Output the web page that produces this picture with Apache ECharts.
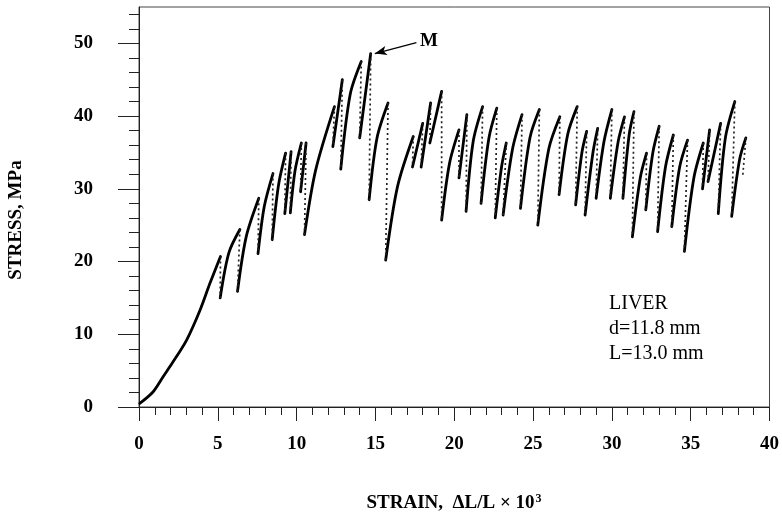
<!DOCTYPE html>
<html>
<head>
<meta charset="utf-8">
<script src="https://cdn.jsdelivr.net/npm/echarts@6/dist/echarts.min.js"></script>
<style>html,body{margin:0;padding:0;background:#fff}#c{width:782px;height:523px}</style>
</head>
<body>
<div id="c"></div>
<script>
// Initial (smooth) loading curve
const initStrain = [0.05, 0.9, 1.54, 2.1, 3.02, 3.87, 4.5, 5.17];
const initStress = [0.5, 2.1, 4.2, 6.0, 9.2, 13.3, 17.0, 20.7];

// Sawtooth: for each tooth, an optional mid point on the rise, the peak, and the trough after the drop
const midStrain = [null, 5.7, 6.8, 7.95, 8.85, null, 9.9, null, 11.2, null, 13.4, null, 15.1, 16.4, null, null, null, 19.7, null, 21.2, 22.2, 23.0, 23.7, 24.8, 26.0, 27.2, 28.1, 28.8, 29.5, 30.4, 31.1, 31.8, 32.6, 33.4, 34.3, 35.2, null, 36.6, 37.2, 38.1];
const midStress = [null, 21.2, 23.4, 27.6, 30.5, null, 32.5, null, 32.5, null, 43.0, null, 37.0, 30.3, null, null, null, 33.5, null, 36.5, 37.0, 33.0, 35.5, 37.0, 35.5, 37.5, 35.0, 35.0, 36.5, 36.5, 37.5, 31.5, 35.0, 33.0, 33.0, 31.5, null, 36.0, 37.0, 34.0];
const peakStrain = [5.17, 6.4, 7.6, 8.5, 9.3, 9.65, 10.3, 10.6, 12.4, 12.9, 14.1, 14.7, 15.8, 17.4, 18.0, 18.5, 19.2, 20.3, 20.8, 21.8, 22.7, 23.3, 24.3, 25.4, 26.7, 27.8, 28.4, 29.1, 30.0, 30.8, 31.4, 32.2, 33.0, 33.9, 34.8, 35.8, 36.2, 36.9, 37.8, 38.5];
const peakStress = [20.7, 24.4, 28.7, 32.1, 34.9, 35.1, 36.3, 36.3, 41.3, 45.0, 47.5, 48.6, 41.8, 37.2, 39.0, 41.8, 43.4, 38.1, 40.2, 41.3, 41.1, 36.3, 40.2, 40.9, 39.9, 41.3, 37.9, 38.3, 40.9, 39.9, 40.6, 34.9, 38.6, 37.4, 36.7, 36.3, 38.1, 39.0, 42.0, 37.0];
const troughStrain = [5.15, 6.25, 7.55, 8.45, 9.25, 9.6, 10.25, 10.5, 12.3, 12.8, 14.0, 14.6, 15.65, 17.35, 17.9, 18.45, 19.2, 20.3, 20.75, 21.7, 22.6, 23.1, 24.2, 25.3, 26.65, 27.7, 28.3, 29.0, 29.9, 30.7, 31.3, 32.15, 32.9, 33.8, 34.6, 35.75, 36.1, 36.75, 37.6, 38.3];
const troughStress = [15.0, 15.9, 21.1, 23.0, 26.6, 26.7, 29.6, 23.7, 35.8, 32.7, 37.0, 28.5, 20.2, 33.0, 33.0, 36.3, 25.7, 31.5, 26.9, 28.0, 26.0, 26.4, 27.3, 25.0, 29.2, 27.8, 26.4, 28.7, 28.7, 28.7, 23.4, 27.1, 24.1, 24.8, 21.4, 30.0, 31.0, 26.6, 26.2, 31.7];

// Axis ticks
const xMajorTicks = [0, 5, 10, 15, 20, 25, 30, 35, 40];
const xMinorTicks = [1,2,3,4,6,7,8,9,11,12,13,14,16,17,18,19,21,22,23,24,26,27,28,29,31,32,33,34,36,37,38,39];
const yMajorTicks = [0, 10, 20, 30, 40, 50];
const yMinorTicks = [2,4,6,8,12,14,16,18,22,24,26,28,32,34,36,38,42,44,46,48,52,54];

// Annotation
const peakLabel = 'M';
const infoLines = ['LIVER', 'd=11.8 mm', 'L=13.0 mm'];

const BREAK = ['-', '-'];
const loading = [];
for (let i = 0; i < initStrain.length; i++) loading.push([initStrain[i], initStress[i]]);
loading.push(BREAK);
for (let i = 1; i < peakStrain.length; i++) {
  loading.push([troughStrain[i - 1], troughStress[i - 1]]);
  if (midStrain[i] !== null) loading.push([midStrain[i], midStress[i]]);
  loading.push([peakStrain[i], peakStress[i]]);
  loading.push(BREAK);
}
const unloading = [];
for (let i = 0; i < peakStrain.length; i++) {
  unloading.push([peakStrain[i], peakStress[i]]);
  unloading.push([troughStrain[i], troughStress[i]]);
  unloading.push(BREAK);
}

const FONT = 'Liberation Serif';
const chart = echarts.init(document.getElementById('c'), null, {renderer: 'canvas'});
const axisBase = {type: 'value', splitLine: {show: false}};
chart.setOption({
  animation: false,
  backgroundColor: '#fff',
  grid: {left: 139, right: 12, top: 7, bottom: 116, show: true, borderColor: '#444', borderWidth: 1},
  xAxis: [
    Object.assign({}, axisBase, {
      min: 0, max: 40, position: 'bottom',
      axisLine: {show: true, onZero: false, lineStyle: {color: '#222', width: 1}},
      axisTick: {show: true, customValues: xMajorTicks, length: 14, lineStyle: {color: '#222'}},
      axisLabel: {show: true, customValues: xMajorTicks, margin: 28, fontFamily: FONT, fontWeight: 'bold', fontSize: 19, color: '#000'}
    }),
    Object.assign({}, axisBase, {
      min: 0, max: 40, position: 'bottom',
      axisLine: {show: false},
      axisTick: {show: true, customValues: xMinorTicks, length: 8, lineStyle: {color: '#222'}},
      axisLabel: {show: false}
    })
  ],
  yAxis: [
    Object.assign({}, axisBase, {
      min: 0, max: 55, position: 'left',
      axisLine: {show: true, onZero: false, lineStyle: {color: '#222', width: 1}},
      axisTick: {show: true, customValues: yMajorTicks, length: 21, lineStyle: {color: '#222'}},
      axisLabel: {show: true, customValues: yMajorTicks, margin: 46, fontFamily: FONT, fontWeight: 'bold', fontSize: 19, color: '#000'}
    }),
    Object.assign({}, axisBase, {
      min: 0, max: 55, position: 'left', offset: 0,
      axisLine: {show: false},
      axisTick: {show: true, customValues: yMinorTicks, length: 10, lineStyle: {color: '#222'}},
      axisLabel: {show: false}
    })
  ],
  series: [
    {
      type: 'line', name: 'loading', data: loading, xAxisIndex: 0, yAxisIndex: 0,
      showSymbol: false, connectNulls: false, smooth: 0.3,
      lineStyle: {color: '#000', width: 2.8, join: 'round', cap: 'round'},
      markLine: {
        silent: true, animation: false,
        symbol: ['none', 'arrow'], symbolSize: [7, 12],
        lineStyle: {color: '#000', width: 1.3, type: 'solid'},
        label: {show: false},
        data: [[{coord: [17.6, 50.1]}, {coord: [14.96, 48.6]}]]
      },
      markPoint: {
        silent: true, animation: false,
        symbol: 'circle', symbolSize: 1, itemStyle: {color: 'rgba(0,0,0,0)'},
        label: {show: true, position: 'inside', formatter: peakLabel, fontFamily: FONT, fontWeight: 'bold', fontSize: 19, color: '#000'},
        data: [{coord: [18.4, 50.3]}]
      }
    },
    {
      type: 'line', name: 'unloading', data: unloading, xAxisIndex: 0, yAxisIndex: 0,
      showSymbol: false, connectNulls: false,
      lineStyle: {color: '#222', width: 1.7, type: [2, 3]}
    }
  ],
  graphic: [
    {type: 'text', left: 609, top: 291, style: {text: infoLines.join('\n'), font: '20px "Liberation Serif"', lineHeight: 25, fill: '#000'}},
    {type: 'text', x: 16, y: 220, rotation: Math.PI / 2,
     style: {text: 'STRESS, MPa', font: 'bold 19px "Liberation Serif"', fill: '#000', align: 'center', verticalAlign: 'middle'}},
    {type: 'text', x: 454, y: 503,
     style: {text: 'STRAIN,  ΔL/L × 10{sup|3}', font: 'bold 19px "Liberation Serif"', fill: '#000', align: 'center', verticalAlign: 'middle',
       rich: {sup: {fontSize: 12, fontWeight: 'bold', fontFamily: FONT, verticalAlign: 'top', padding: [0, 0, 9, 1]}}}}
  ]
});
</script>
</body>
</html>
